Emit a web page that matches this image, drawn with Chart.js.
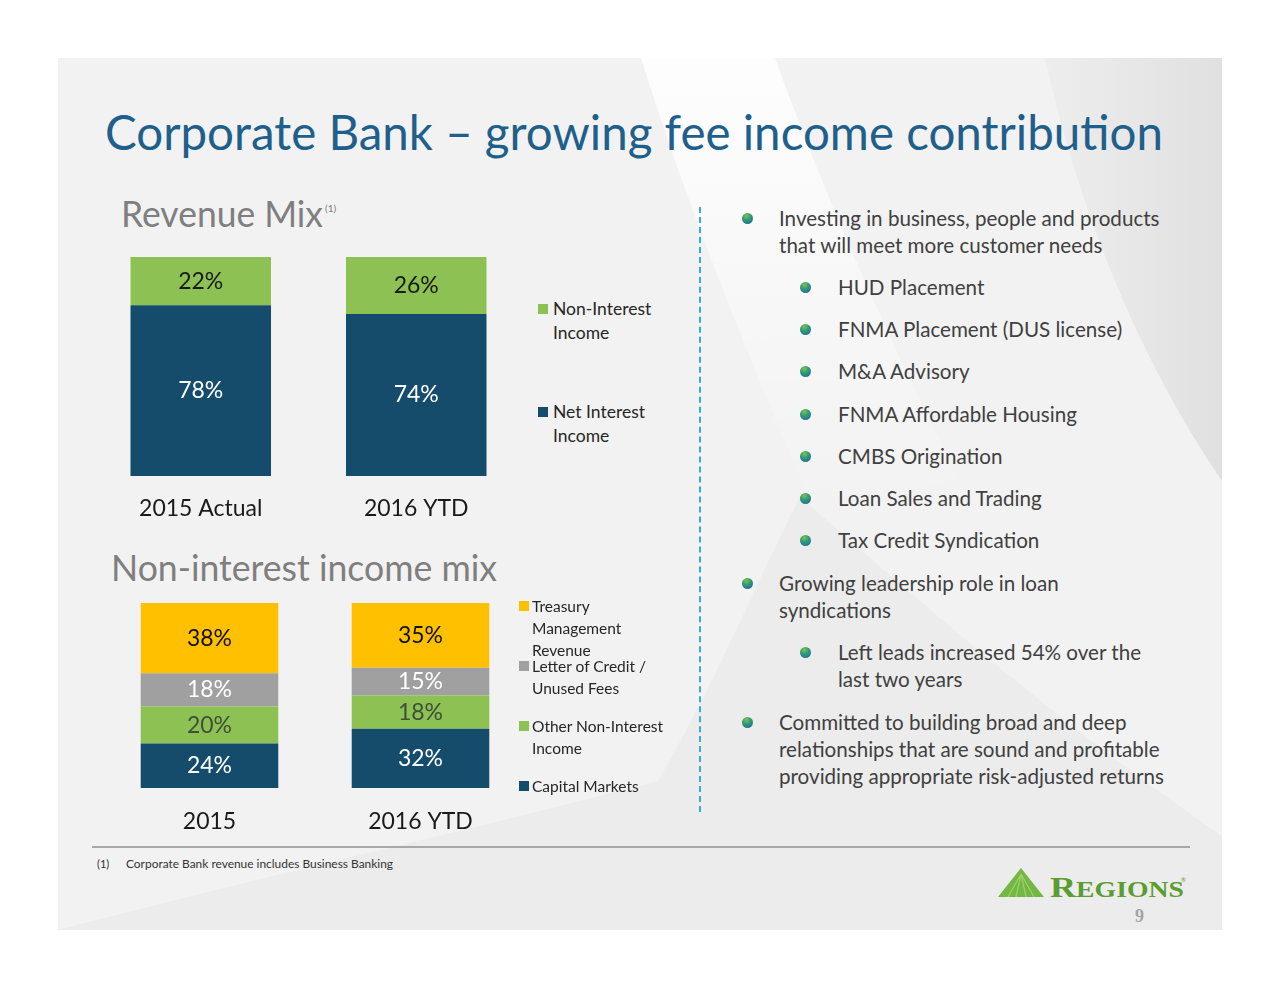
<!DOCTYPE html>
<html>
<head>
<meta charset="utf-8">
<script src="https://cdn.jsdelivr.net/npm/chart.js@4.4.1/dist/chart.umd.min.js"></script>
<style>
  html, body { margin: 0; padding: 0; background: #fff; }
  body { width: 1280px; height: 989px; position: relative; overflow: hidden; font-family: Lato, "Open Sans", sans-serif; }
  #slide { position: absolute; left: 58px; top: 58px; width: 1164px; height: 872px; background: #f2f2f2; overflow: hidden; }
  #slide svg.bg { position: absolute; left: 0; top: 0; }
  .t { position: absolute; white-space: nowrap; line-height: 1.2; transform-origin: 0 50%; }
  .title { font-size: 48px; color: #1f5f8b; }
  .head { font-size: 37px; color: #7f7f7f; }
  .b { font-size: 20.6px; color: #404040; }
  .dot { position: absolute; width: 11px; height: 11px; border-radius: 50%;
         background: radial-gradient(circle at 40% 25%, #82c444 0%, #2f9a7c 40%, #1d5f99 100%); }
  .leg { position: absolute; color: #262626; }
  .leg i { position: absolute; width: 10px; height: 10px; }
  .chartbox { position: absolute; }
  .dash { position: absolute; left: 699px; top: 207px; height: 605px; border-left: 2px dashed #3aa9dc; }
  .rule { position: absolute; left: 92px; top: 846px; width: 1098px; height: 2px; background: #a8a8a8; }
</style>
</head>
<body>
<div id="slide">
  <svg class="bg" width="1164" height="872">
    <defs>
      <linearGradient id="g1" x1="0" y1="0" x2="0" y2="1">
        <stop offset="0" stop-color="#ffffff" stop-opacity="1"/>
        <stop offset="1" stop-color="#ffffff" stop-opacity="0"/>
      </linearGradient>
      <linearGradient id="g2" x1="0" y1="0" x2="1" y2="0">
        <stop offset="0" stop-color="#e2e2e2" stop-opacity="0.3"/>
        <stop offset="1" stop-color="#e0e0e0" stop-opacity="1"/>
      </linearGradient>
    </defs>
    <path d="M583,0 L717,0 C760,120 820,260 900,420 L760,460 C690,300 630,150 583,0 Z" fill="url(#g1)" opacity="0.9"/>
    <path d="M987,0 L1164,0 L1164,423 C1080,300 1020,150 987,0 Z" fill="url(#g2)"/>
    <path d="M0,872 C200,820 420,770 600,723 C660,620 700,520 742,439 C880,560 1020,680 1164,778 L1164,872 Z" fill="#e8e8e8" opacity="0.55"/>
  </svg>
</div>

<div class="t title" id="title" style="left:105px; top:103px;" data-w="1058">Corporate Bank – growing fee income contribution</div>

<div class="t head" style="left:121px; top:191px;" data-w="202">Revenue Mix</div>
<div class="t" style="left:325px; top:202px; font-size:10px; color:#7f7f7f;">(1)</div>
<div class="t head" style="left:111px; top:545px;" data-w="386">Non-interest income mix</div>

<div class="chartbox" style="left:93px; top:257px; width:431px; height:279px;"><canvas id="revChart"></canvas></div>
<div class="chartbox" style="left:104px; top:603px; width:422px; height:245px;"><canvas id="nonChart"></canvas></div>

<div id="legTop"></div>
<div id="legBottom"></div>

<div class="dash"></div>
<div id="bullets"></div>

<div class="rule"></div>
<div class="t" style="left:97px; top:857px; font-size:11px; color:#333;">(1)</div>
<div class="t" style="left:126px; top:857px; font-size:11px; color:#333;" data-w="267">Corporate Bank revenue includes Business Banking</div>

<svg style="position:absolute; left:990px; top:860px;" width="210" height="70">
  <polygon points="31,8 8,37 54,37" fill="#74b743"/>
  <path d="M31,14 L26,37 M31,14 L36,37 M31,14 L18,37 M31,14 L44,37" stroke="#9ed070" stroke-width="1.2" fill="none"/>
  <text x="60" y="37" font-family="'Liberation Serif', 'DejaVu Serif', serif" font-weight="bold" font-size="30" fill="#5b9d31" textLength="134" lengthAdjust="spacingAndGlyphs">R<tspan font-size="23">EGIONS</tspan></text>
  <text x="191" y="22" font-size="6" fill="#5b9d31">®</text>
  <text x="145" y="62" font-family="'Liberation Serif', serif" font-weight="bold" font-size="18" fill="#a3a3a3">9</text>
</svg>

<script>
// Revenue mix
const revCategories = ["2015 Actual", "2016 YTD"];
const netInterestIncome = [78, 74];
const nonInterestIncome = [22, 26];

// Non-interest income mix
const nonCategories = ["2015", "2016 YTD"];
const capitalMarkets = [24, 32];
const otherNonInterest = [20, 18];
const letterOfCredit = [18, 15];
const treasuryMgmt = [38, 35];

const NAVY = "#154b6b";
const GREEN = "#8dc153";
const GRAY = "#a0a0a0";
const GOLD = "#ffc000";

// bullet list: [level, baseline y, text, has dot]
const bulletLines = [
  [1, 226, "Investing in business, people and products", true],
  [1, 253, "that will meet more customer needs", false],
  [2, 295, "HUD Placement", true],
  [2, 337, "FNMA Placement (DUS license)", true],
  [2, 379, "M&A Advisory", true],
  [2, 422, "FNMA Affordable Housing", true],
  [2, 464, "CMBS Origination", true],
  [2, 506, "Loan Sales and Trading", true],
  [2, 548, "Tax Credit Syndication", true],
  [1, 591, "Growing leadership role in loan", true],
  [1, 618, "syndications", false],
  [2, 660, "Left leads increased 54% over the", true],
  [2, 687, "last two years", false],
  [1, 730, "Committed to building broad and deep", true],
  [1, 757, "relationships that are sound and profitable", false],
  [1, 784, "providing appropriate risk-adjusted returns", false]
];

const bulletsEl = document.getElementById("bullets");
bulletLines.forEach(function (l) {
  const x = l[0] === 1 ? 779 : 838;
  const d = document.createElement("div");
  d.className = "t b";
  d.textContent = l[2];
  d.style.left = x + "px";
  d.style.top = (l[1] - 20.6 * 0.987) + "px";
  bulletsEl.appendChild(d);
  if (l[3]) {
    const dot = document.createElement("div");
    dot.className = "dot";
    dot.style.left = (l[0] === 1 ? 742 : 800) + "px";
    dot.style.top = (l[1] - 13) + "px";
    bulletsEl.appendChild(dot);
  }
});

// legends (html so the text can wrap like the original)
function legend(el, items, fontSize, lineH, gap) {
  items.forEach(function (it) {
    const d = document.createElement("div");
    d.className = "leg";
    d.style.left = it.x + "px";
    d.style.top = it.y + "px";
    d.style.fontSize = fontSize + "px";
    d.style.lineHeight = lineH + "px";
    d.innerHTML = '<i style="left:0; top:' + (lineH / 2 - 5) + 'px; background:' + it.color + '"></i>' +
      '<div style="margin-left:' + gap + 'px">' + it.lines.join("<br>") + "</div>";
    el.appendChild(d);
  });
}
legend(document.getElementById("legTop"), [
  { x: 538, y: 297, color: GREEN, lines: ["Non-Interest", "Income"] },
  { x: 538, y: 400, color: NAVY, lines: ["Net Interest", "Income"] }
], 17.5, 24, 15);
legend(document.getElementById("legBottom"), [
  { x: 519, y: 595, color: GOLD, lines: ["Treasury", "Management", "Revenue"] },
  { x: 519, y: 655, color: GRAY, lines: ["Letter of Credit /", "Unused Fees"] },
  { x: 519, y: 715, color: GREEN, lines: ["Other Non-Interest", "Income"] },
  { x: 519, y: 775, color: NAVY, lines: ["Capital Markets"] }
], 15.5, 22, 13);

// value labels in the middle of each segment
const segmentLabels = {
  id: "segmentLabels",
  afterDatasetsDraw(chart) {
    const ctx = chart.ctx;
    chart.data.datasets.forEach(function (ds, i) {
      chart.getDatasetMeta(i).data.forEach(function (bar, j) {
        ctx.save();
        ctx.fillStyle = ds.labelColor;
        ctx.font = "23px Lato";
        ctx.textAlign = "center";
        ctx.textBaseline = "middle";
        ctx.fillText(ds.data[j] + "%", bar.x, (bar.y + bar.base) / 2);
        ctx.restore();
      });
    });
  }
};

function stackedOptions(axisHeight, pad) {
  return {
    responsive: true,
    maintainAspectRatio: false,
    animation: false,
    layout: { padding: 0 },
    plugins: { legend: { display: false }, tooltip: { enabled: false } },
    datasets: { bar: { categoryPercentage: 0.652, barPercentage: 1, borderWidth: 0 } },
    scales: {
      x: {
        stacked: true,
        grid: { display: false, drawTicks: false },
        border: { display: false },
        ticks: { color: "#1a1a1a", font: { family: "Lato", size: 23 }, padding: pad },
        afterFit: function (s) { s.height = axisHeight; }
      },
      y: { stacked: true, display: false, min: 0, max: 100 }
    }
  };
}

new Chart(document.getElementById("revChart"), {
  type: "bar",
  data: {
    labels: revCategories,
    datasets: [
      { label: "Net Interest Income", data: netInterestIncome, backgroundColor: NAVY, labelColor: "#ffffff" },
      { label: "Non-Interest Income", data: nonInterestIncome, backgroundColor: GREEN, labelColor: "#1a1a1a" }
    ]
  },
  options: stackedOptions(60, 19),
  plugins: [segmentLabels]
});

new Chart(document.getElementById("nonChart"), {
  type: "bar",
  data: {
    labels: nonCategories,
    datasets: [
      { label: "Capital Markets", data: capitalMarkets, backgroundColor: NAVY, labelColor: "#ffffff" },
      { label: "Other Non-Interest Income", data: otherNonInterest, backgroundColor: GREEN, labelColor: "#3f4f3a" },
      { label: "Letter of Credit / Unused Fees", data: letterOfCredit, backgroundColor: GRAY, labelColor: "#ffffff" },
      { label: "Treasury Management Revenue", data: treasuryMgmt, backgroundColor: GOLD, labelColor: "#111111" }
    ]
  },
  options: stackedOptions(60, 20),
  plugins: [segmentLabels]
});

// squeeze text to the width it had in the original slide
document.querySelectorAll("[data-w]").forEach(function (el) {
  const w = el.getBoundingClientRect().width;
  el.style.transform = "scaleX(" + (parseFloat(el.dataset.w) / w) + ")";
});
</script>
</body>
</html>
